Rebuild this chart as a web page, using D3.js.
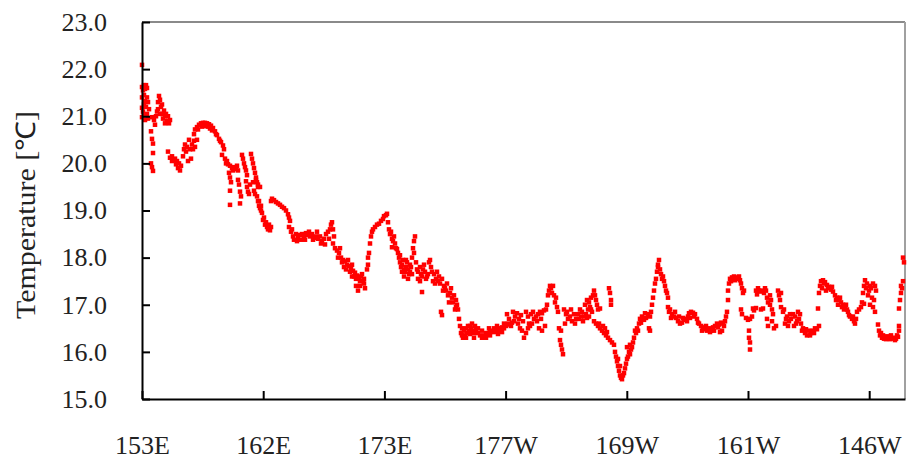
<!DOCTYPE html>
<html><head><meta charset="utf-8">
<script src="https://cdn.jsdelivr.net/npm/d3@7/dist/d3.min.js"></script>
<style>body{margin:0;background:#fff}svg{display:block}</style>
</head><body><svg id="c" width="908" height="461"></svg>
<script>
// Category tick labels along the cruise track and their sample positions
const categories = ["153E","162E","173E","177W","169W","161W","146W"];
const tickSamples = [0,121.2,242.4,363.6,484.8,606,727.2];
const sampleMax = 763;
const yTicks = [15,16,17,18,19,20,21,22,23];

// Observations [sampleIndex, temperature °C], split by leg
const legA = [[0,22.09],[0,21.62],[0,21.4],[0,21.18],[0,20.98],[1,21.55],[1,21.1],[2,21.66],[2,21.45],[2,21.25],[2,21.02],[3,21.58],[3,21.32],[3,20.92],[4,21.66],[4,21.2],[5,21.6],[5,21.4],[5,21.05],[6,21.3],[6,20.95],[7,21.15],
[9,20.68],[10,20.52],[11,20.42],[11,20.22],[9,20.0],[10,19.92],[11,19.84],
[10,20.98],[12,20.92],[13,20.82],[14,21.0],[15,21.1],[16,21.3],[17,21.43],[18,21.35],[19,21.2],[20,21.05],[18,21.05],[21,20.95],[22,21.12],[23,21.0],[24,21.05],[25,20.9],[26,21.0],[27,20.85],[28,20.92],[16,21.15],[20,21.25],[23,20.85],
[26,20.25],[28,20.12],[30,20.15],[30,20.05],[32,20.07],[33,20.1],[34,19.98],[35,20.05],[36,19.9],[37,20.0],[38,19.85],[39,19.95],
[41,20.15],[42,20.3],[43,20.4],[44,20.25],[45,20.35],[46,20.05],[47,20.5],[48,20.3],[49,20.1],[50,20.4],[51,20.3],[52,20.48],[53,20.35],[55,20.5],
[52,20.62],[53,20.72],[55,20.77],[57,20.82],[59,20.85],[61,20.86],[63,20.86],[65,20.85],[67,20.83],[69,20.8],[71,20.75],[73,20.68],[75,20.6],[77,20.52],[79,20.45],[81,20.38],[82,20.3],[56,20.72],[60,20.78],[64,20.79],[68,20.74],[80,20.18],
[62,20.8],[66,20.78],[70,20.7],[74,20.62],[78,20.48],
[83,20.1],[85,20.05],[86,19.98],[88,19.95],[90,19.9],[92,19.92],[94,19.88],[96,19.85],[87,19.8],[88,19.7],[89,19.6],[88,19.42],[88,19.12],[96,19.65],[97,19.55],[98,19.4],[99,19.3],[98,19.15],[100,20.18],[101,20.1],[102,20.0],[103,19.92],[104,19.85],[105,19.75],[104,19.62],[105,19.5],[106,19.4],[109,20.2],[110,20.1],[111,20.0],[112,19.9],[113,19.8],[114,19.7],[115,19.6],[116,19.5],[112,19.42],[113,19.35],[115,19.3],[116,19.2],[117,19.1],[118,19.05],[119,19.0],[114,19.65],[116,19.55],[118,19.5],[117,19.2],[119,19.1],[120,18.95],
[84,20.0],[91,19.85],[95,19.95],[107,19.35],[108,19.55],[111,19.6]];
const legB = [[121,18.8],[123,18.7],[122,18.85],[124,18.75],[125,18.65],[126,18.6],[127,18.7],[128,18.58],[129,18.65],
[129,19.2],[130,19.25],[132,19.22],[134,19.18],[136,19.15],[138,19.12],[140,19.08],[142,19.05],[144,19.0],[146,18.92],[147,18.85],[148,18.78],
[147,18.65],[149,18.55],[151,18.45],[152,18.38],[154,18.5],[156,18.42],[158,18.48],
[160,18.5],[162,18.45],[164,18.52],[166,18.48],[168,18.45],[170,18.5],[172,18.42],[174,18.45],[176,18.4],[178,18.45],[180,18.35],[182,18.4],
[150,18.6],[155,18.35],[159,18.38],[163,18.38],[167,18.55],[171,18.38],[175,18.55],[179,18.3],[183,18.28],[187,18.4],
[184,18.5],[186,18.55],[188,18.6],[189,18.7],[190,18.75],[191,18.6],[192,18.45],[191,18.3],[193,18.2],
[195,18.15],[197,18.1],[199,18.0],[201,17.95],[203,17.92],[205,17.85],[207,17.82],[209,17.78],[211,17.72],[213,17.68],[215,17.62],[217,17.55],[219,17.6],[221,17.5],[222,17.45],[214,17.4],[216,17.3],[218,17.5],[200,17.9],[204,17.75],[208,17.7],[212,17.6],[220,17.65],
[196,18.0],[198,18.2],[202,17.8],[206,17.95],[210,17.6],[214,17.55],[218,17.4],[222,17.55],[223,17.35],[210,17.85],
[225,17.75],[226,17.85],[226,18.0],[227,18.1],[228,18.3],[229,18.45],[230,18.55],[231,18.6],
[233,18.65],[235,18.7],[237,18.72],[239,18.78],[241,18.82]];
const legC = [[242,18.88],[244,18.9],[245,18.93],[246,18.75],[247,18.6],[248,18.5],[249,18.55],[250,18.4],[251,18.35],[252,18.45],[253,18.3],[254,18.2],[250,18.22],[255,18.18],
[256,18.1],[257,18.0],[258,17.9],[259,17.8],[260,17.85],[261,17.95],[262,17.75],[263,17.7],[264,17.8],[265,17.9],[266,17.75],[267,17.65],[268,17.7],[269,17.8],[270,18.0],[271,18.2],[272,18.35],[273,18.45],[272,18.1],[274,17.9],[275,17.75],
[258,18.05],[260,17.7],[262,17.6],[264,17.95],[266,17.55],[268,17.85],[270,17.65],
[276,17.7],[278,17.8],[279,17.65],[280,17.6],[281,17.75],[283,17.7],[285,17.6],[286,17.65],[287,17.9],[288,17.95],[289,17.8],[290,17.7],[280,17.27],
[276,17.55],[278,17.5],[282,17.85],[284,17.55],[291,17.5],[293,17.45],[295,17.7],[297,17.6],[301,17.3],[305,17.45],[307,17.05],[309,17.35],[313,16.9],
[292,17.65],[294,17.55],[296,17.5],[298,17.45],[300,17.55],[302,17.4],[303,17.35],
[304,17.3],[306,17.2],[308,17.25],[310,17.15],[311,17.05],[312,17.2],[314,17.1],[315,17.0],[316,16.9],[314,16.95],[299,16.85],[300,16.78],
[317,16.7],[318,16.55],[319,16.4],[320,16.5],[321,16.3],[322,16.45],[323,16.35],[324,16.5],[325,16.4],[326,16.55],[327,16.45],[328,16.38],[329,16.5],[330,16.6],[331,16.45],[332,16.4],[333,16.55],[334,16.48],[336,16.4],[338,16.35],[340,16.3],[342,16.35],[344,16.4],
[320,16.35],[324,16.3],[328,16.55],[332,16.3],[336,16.5],[340,16.45],[344,16.3],[348,16.35],[352,16.5],[356,16.38],[360,16.42],
[346,16.38],[348,16.42],[350,16.45],[352,16.42],[354,16.48],[356,16.45],[358,16.5],[360,16.52],[362,16.5],[347,16.5],[355,16.55],[362,16.6]];
const legD = [[364,16.55],[366,16.6],[368,16.58],[370,16.62],[365,16.8],[367,16.7],[369,16.55],[371,16.85],[373,16.75],[375,16.82],[377,16.7],[379,16.78],[378,16.5],[380,16.45],[382,16.3],[384,16.4],[386,16.5],[388,16.55],[390,16.6],[384,16.85],[386,16.75],[389,16.8],[392,16.7],[394,16.75],[396,16.8],[398,16.85],[400,16.82],[402,16.88],[404,16.9],[397,16.5],[400,16.45],[403,16.55],
[372,16.65],[376,16.6],[381,16.65],[387,16.6],[391,16.85],[395,16.65],[399,16.7],
[405,17.0],[406,17.2],[407,17.3],[408,17.4],[409,17.35],[410,17.25],[411,17.4],[412,17.2],[413,17.05],[414,17.15],[415,16.95],[416,16.85],[417,16.5],[419,16.45],[418,16.25],[419,16.15],[420,16.05],[421,15.95],
[422,16.9],[424,16.8],[426,16.7],[428,16.75],[430,16.65],[432,16.8],[434,16.7],[423,16.6],[436,16.8],[438,16.9],[440,16.85],[442,16.75],[444,16.8],[446,16.9],[448,16.95],[450,16.85],[437,16.7],[441,16.65],[445,16.72],
[425,16.85],[429,16.9],[433,16.6],[439,16.75],[447,16.75],[449,16.9],
[443,17.0],[445,17.1],[447,17.05],[449,17.15],[451,17.2],[452,17.3],[453,17.2],[454,17.1],[455,17.0],[456,16.9],[458,16.92],
[452,16.65],[454,16.6],[456,16.55],[458,16.5],[460,16.45],[462,16.4],[464,16.35],[466,16.3],[468,16.25],[470,16.2],[472,16.15],[467,17.35],[468,17.25],[469,17.1],[469,17.0],
[457,16.6],[461,16.55],[463,16.5],[465,16.42],
[473,16.0],[474,15.9],[475,15.8],[476,15.7],[477,15.6],[478,15.5],[479,15.45],[480,15.42],[481,15.5],[482,15.55],[483,15.65],[476,15.85],[478,15.7]];
const legE = [[484,15.75],[485,15.85],[486,15.9],[487,16.0],[488,15.95],[489,16.05],[490,16.1],[491,16.2],[485,16.1],[488,16.15],[492,16.3],[493,16.45],[494,16.4],[495,16.5],[496,16.45],
[497,16.6],[498,16.7],[500,16.75],[502,16.68],[504,16.72],[506,16.8],[508,16.75],[509,16.85],[507,16.5],[508,16.45],[499,16.62],[503,16.82],
[510,17.0],[511,17.15],[512,17.3],[513,17.45],[514,17.55],[515,17.7],[516,17.85],[517,17.95],[516,17.8],[518,17.75],[519,17.65],[520,17.55],[521,17.6],[522,17.5],[523,17.4],[524,17.3],[525,17.25],[526,17.15],
[526,16.95],[527,16.85],[528,16.9],[530,16.8],[532,16.75],[534,16.72],[536,16.65],[538,16.6],[540,16.62],[542,16.68],[544,16.7],[546,16.75],[547,16.82],[549,16.85],[551,16.83],[553,16.8],[555,16.7],[557,16.6],[559,16.55],[561,16.52],[563,16.48],[565,16.45],[567,16.5],[569,16.45],[571,16.52],[573,16.55],[575,16.6],[577,16.58],[579,16.62],[581,16.6],[583,16.65],[578,16.42],[580,16.45],
[529,16.72],[533,16.85],[537,16.75],[541,16.72],[545,16.65],[548,16.72],[552,16.75],[556,16.62],[560,16.45],[564,16.55],[568,16.42],[572,16.45],[576,16.52],[582,16.55],
[584,16.75],[585,16.85],[586,17.1],[586,17.3],[587,17.45],[588,17.55],[590,17.58],[592,17.6],[594,17.58],[596,17.55],[598,17.52],[599,17.45],[600,17.35],[601,17.25],[602,17.3],[599,16.9],[600,16.8],[604,16.72],
[589,17.5],[593,17.52],[597,17.6]];
const legF = [[606,16.68],[608,16.7],[610,16.75],[607,16.45],[607,16.3],[608,16.2],[608,16.05],[611,16.92],[612,16.88],
[614,17.3],[616,17.35],[618,17.28],[620,17.3],[622,17.25],[624,17.3],[614,16.93],[619,16.9],[621,16.92],[625,17.15],[626,17.05],[625,16.7],[626,16.55],
[615,17.22],[617,17.3],[623,17.35],
[628,17.2],[629,17.1],[628,17.0],[630,16.9],[631,16.8],[630,16.65],[632,16.5],[634,16.55],[636,17.3],[637,17.2],[638,17.1],[639,17.25],[639,16.95],[641,16.85],[642,16.9],[643,16.6],
[645,16.75],[647,16.65],[649,16.7],[651,16.8],[653,16.75],[655,16.65],[657,16.7],[659,16.6],[646,16.55],[652,16.55],[656,16.85],[658,16.8],
[644,16.7],[648,16.8],[654,16.6],[660,16.45],[664,16.48],[668,16.35],[672,16.4],
[661,16.5],[663,16.4],[665,16.35],[667,16.45],[669,16.4],[671,16.45],[673,16.5],[675,16.48],[677,16.55],[676,16.92],
[677,17.25],[678,17.4],[679,17.5],[681,17.52],[683,17.48],[685,17.42],[687,17.38],[689,17.32],[691,17.28],[680,17.35],[684,17.3],
[682,17.45],[686,17.35],[690,17.38],[694,17.1],[698,17.15],[702,16.9],[704,17.0],[707,16.78],[711,16.75],[713,16.6],
[693,17.2],[695,17.15],[697,17.1],[699,17.05],[701,17.0],[703,16.95],[705,16.9],[696,17.0],[700,16.95],[706,16.85],[708,16.75],[710,16.7],[712,16.65],[714,16.7],[715,16.85],[717,16.9],[719,16.95],[720,17.05],[722,17.02],
[721,17.25],[722,17.4],[723,17.52],[725,17.45],[727,17.3],[729,17.35],[731,17.45],[733,17.4],[734,17.3],[726,17.2],[730,17.15],[728,17.0],[731,16.95],[733,16.85],[732,17.1],
[724,17.35],[728,17.4],
[736,16.58],[737,16.45],[738,16.35],[740,16.3],[742,16.28],[744,16.27],[746,16.28],[748,16.27],[750,16.28],[752,16.3],[754,16.28],[756,16.32],[739,16.4],[757,16.55],[757,16.45],[757,16.92],[758,17.1],[759,17.25],[760,17.35],[761,17.5],[759,17.4],[761,18.0],[762,17.9],
[741,16.35],[745,16.33],[749,16.35],[753,16.25],[755,16.35]];

const observations = [].concat(legA, legB, legC, legD, legE, legF);

const svg = d3.select("#c");
const L = 142, R = 905, T = 22, B = 399;
const x = d3.scaleLinear().domain([0, sampleMax]).range([L, R]);
const y = d3.scaleLinear().domain([15, 23]).range([B, T]);
const font = "'Liberation Serif','Times New Roman',serif";

// frame (top/right in gray)
svg.append("line").attr("x1", L).attr("x2", R).attr("y1", T).attr("y2", T)
  .attr("stroke", "#8a8a8a").attr("stroke-width", 2);
svg.append("line").attr("x1", R).attr("x2", R).attr("y1", T).attr("y2", B)
  .attr("stroke", "#a0a0a0").attr("stroke-width", 2);

// points
const ms = 4.5;
svg.append("g").selectAll("rect").data(observations).join("rect")
  .attr("x", d => x(d[0]) - ms / 2).attr("y", d => y(d[1]) - ms / 2)
  .attr("width", ms).attr("height", ms).attr("fill", "#ff0000");

// y axis
const gy = svg.append("g").attr("transform", `translate(${L},0)`)
  .call(d3.axisLeft(y).tickValues(yTicks).tickFormat(d3.format(".1f"))
    .tickSizeInner(-8).tickSizeOuter(0).tickPadding(35));
gy.selectAll("path.domain").attr("stroke", "#000").attr("stroke-width", 2);
gy.selectAll(".tick line").attr("stroke", "#000").attr("stroke-width", 2);
gy.selectAll(".tick text").attr("font-family", font).attr("font-size", 26).attr("fill", "#222");

// x axis
const gx = svg.append("g").attr("transform", `translate(0,${B})`)
  .call(d3.axisBottom(x).tickValues(tickSamples).tickFormat((d, i) => categories[i])
    .tickSizeInner(-8).tickSizeOuter(0));
gx.selectAll("path.domain").attr("stroke", "#000").attr("stroke-width", 2);
gx.selectAll(".tick line").attr("stroke", "#000").attr("stroke-width", 2);
gx.selectAll(".tick text").attr("font-family", font).attr("font-size", 26).attr("fill", "#222")
  .attr("y", 55).attr("dy", null);

// y title
svg.append("text").attr("transform", "translate(26,215) rotate(-90)")
  .attr("text-anchor", "middle").attr("dominant-baseline", "central")
  .attr("font-family", font).attr("font-size", 27).attr("fill", "#222")
  .attr("textLength", 208).attr("lengthAdjust", "spacingAndGlyphs")
  .text("Temperature [℃]");
</script></body></html>
